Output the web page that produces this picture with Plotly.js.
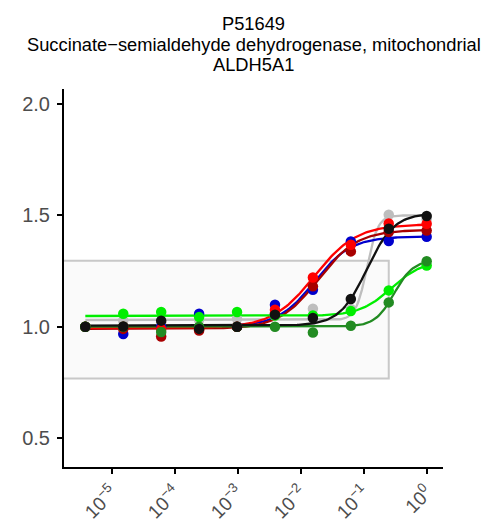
<!DOCTYPE html>
<html>
<head>
<meta charset="utf-8">
<script src="https://cdn.plot.ly/plotly-3.0.1.min.js"></script>
<style>html,body{margin:0;padding:0;background:#fff;}#chart{width:489px;height:526px;}</style>
</head>
<body>
<div id="chart"></div>
<script>
// ---- data ----
const doses = [3.815e-6, 1.526e-5, 6.104e-5, 2.441e-4, 9.766e-4, 3.906e-3, 1.5625e-2, 6.25e-2, 0.25, 1];

const seriesNames  = ["gray", "blue", "darkred", "red", "green", "darkgreen", "black"];
const seriesColors = ["#BEBEBE", "#0000CD", "#A80000", "#FF0000", "#00EE00", "#228B22", "#111111"];

const grayVals      = [1.000, 1.028, 1.019, 1.030, 1.036, 1.050, 1.081, 1.079, 1.503, 1.483];
const blueVals      = [1.000, 0.967, 1.000, 1.058, 1.000, 1.099, 1.166, 1.383, 1.385, 1.404];
const darkredVals   = [1.000, 0.990, 0.956, 0.983, 1.000, 1.060, 1.181, 1.338, 1.425, 1.432];
const redVals       = [1.000, 1.000, 0.990, 0.990, 1.000, 1.076, 1.221, 1.368, 1.463, 1.462];
const greenVals     = [1.000, 1.058, 1.066, 1.043, 1.066, 1.050, 1.050, 1.070, 1.163, 1.275];
const darkgreenVals = [1.000, 1.000, 0.976, 1.000, 1.000, 1.000, 0.974, 1.004, 1.109, 1.294];
const blackVals     = [1.000, 1.001, 1.027, 0.990, 1.000, 1.054, 1.039, 1.124, 1.440, 1.497];
const seriesValues = [grayVals, blueVals, darkredVals, redVals, greenVals, darkgreenVals, blackVals];

// fitted log-logistic curve parameters: [bottom, top, log10 EC50, hill]
const fitBottom = [1.030, 1.000, 0.990, 0.995, 1.048, 1.000, 1.005];
const fitTop    = [1.500, 1.405, 1.435, 1.460, 1.300, 1.300, 1.510];
const fitLogEC  = [-0.95, -1.78, -1.72, -1.78, -0.558, -0.515, -0.95];
const fitHill   = [5.0, 1.5, 1.4, 1.3, 1.71, 2.85, 2.0];

const xTickVals = [1e-5, 1e-4, 1e-3, 1e-2, 1e-1, 1];
const xTickText = ["10<sup>\u22125</sup>", "10<sup>\u22124</sup>", "10<sup>\u22123</sup>", "10<sup>\u22122</sup>", "10<sup>\u22121</sup>", "10<sup>0</sup>"];
const yTickVals = [0.5, 1.0, 1.5, 2.0];
const yTickText = ["0.5", "1.0", "1.5", "2.0"];

const titleLines = ["P51649", "Succinate\u2212semialdehyde dehydrogenase, mitochondrial", "ALDH5A1"];
const titleLineY = [1.172, 1.119, 1.065];

// ---- build traces ----
const lo = Math.log10(doses[0]), hi = Math.log10(doses[doses.length - 1]);
const nCurve = 200;
const traces = [];
seriesNames.forEach((name, i) => {
  const cx = [], cy = [];
  for (let k = 0; k <= nCurve; k++) {
    const lx = lo + (hi - lo) * k / nCurve;
    cx.push(Math.pow(10, lx));
    cy.push(fitBottom[i] + (fitTop[i] - fitBottom[i]) / (1 + Math.pow(10, fitHill[i] * (fitLogEC[i] - lx))));
  }
  traces.push({x: cx, y: cy, type: "scatter", mode: "lines", name: name + " fit",
    line: {color: seriesColors[i], width: 2.3}, hoverinfo: "skip", showlegend: false});
});
seriesNames.forEach((name, i) => {
  traces.push({x: doses, y: seriesValues[i], type: "scatter", mode: "markers", name: name,
    marker: {color: seriesColors[i], size: 10.5}, showlegend: false});
});

const annotations = titleLines.map((t, i) => ({
  text: t, xref: "paper", yref: "paper", x: 0.5, y: titleLineY[i],
  xanchor: "center", yanchor: "middle", showarrow: false,
  font: {size: 18.3, color: "#000"}
}));

const layout = {
  width: 489, height: 526,
  paper_bgcolor: "#FFFFFF", plot_bgcolor: "#FFFFFF",
  margin: {l: 64, r: 46, t: 89, b: 59},
  font: {family: "Liberation Sans, Arial, sans-serif", color: "#000"},
  annotations: annotations,
  xaxis: {type: "log", range: [-5.757, 0.259], showgrid: false, zeroline: false,
    showline: true, linecolor: "#000", linewidth: 2,
    ticks: "outside", ticklen: 5, tickwidth: 2, tickcolor: "#000",
    tickvals: xTickVals, ticktext: xTickText, tickangle: -45,
    tickfont: {size: 19, color: "#4D4D4D"}},
  yaxis: {range: [0.3698, 2.0674], showgrid: false, zeroline: false,
    showline: true, linecolor: "#000", linewidth: 2,
    ticks: "outside", ticklen: 5, tickwidth: 2, tickcolor: "#000",
    tickvals: yTickVals, ticktext: yTickText, ticklabelstandoff: 3,
    tickfont: {size: 20, color: "#4D4D4D"}},
  shapes: [{type: "rect", xref: "x", yref: "y", x0: 1e-8, x1: 0.25, y0: 0.767, y1: 1.296,
    layer: "below", fillcolor: "#FAFAFA", line: {color: "#C8C8C8", width: 2}}],
  showlegend: false
};

Plotly.newPlot("chart", traces, layout, {displayModeBar: false, staticPlot: true});
</script>
</body>
</html>
